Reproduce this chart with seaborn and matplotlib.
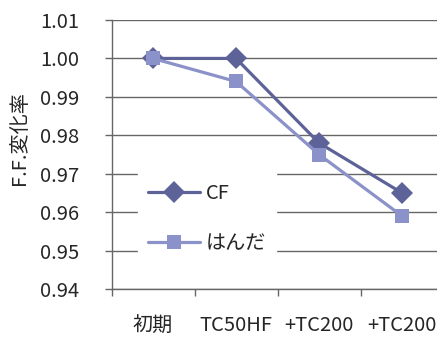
import matplotlib
matplotlib.use("Agg")
import matplotlib.pyplot as plt
import seaborn as sns
import pandas as pd

# Data
stages = ["初期", "TC50HF", "+TC200", "+TC200"]
cf_values = [1.000, 1.000, 0.978, 0.965]
solder_values = [1.000, 0.994, 0.975, 0.959]
series_names = ["CF", "はんだ"]
y_ticks = [0.94, 0.95, 0.96, 0.97, 0.98, 0.99, 1.00, 1.01]

sns.set_theme(style="white")
plt.rcParams["font.family"] = ["Noto Sans CJK JP", "DejaVu Sans"]

colors = {"CF": "#5d6298", "はんだ": "#8b91c9"}
markers = {"CF": "D", "はんだ": "s"}
text_color = "#262626"
axis_color = "#666666"
fs = 14.5

rows = []
for name, vals in zip(series_names, [cf_values, solder_values]):
    for i, (stage, v) in enumerate(zip(stages, vals)):
        rows.append({"pos": i, "stage": stage, "series": name, "value": v})
df = pd.DataFrame(rows)

fig = plt.figure(figsize=(4.37, 3.38), dpi=100)
ax = fig.add_axes([111.5 / 437, 1 - 289 / 338, 332 / 437, 269 / 338])

for name in series_names:
    sub = df[df["series"] == name]
    sns.lineplot(data=sub, x="pos", y="value", ax=ax, color=colors[name],
                 marker=markers[name], markersize=11 if name == "CF" else 10,
                 markeredgecolor=colors[name], markeredgewidth=0,
                 linewidth=2.3, label=name, legend=False)

ax.set_xlim(-0.5, 3.5)
ax.set_ylim(0.94, 1.01)
ax.set_yticks(y_ticks)
ax.set_yticklabels([f"{t:.2f}" for t in y_ticks])
ax.set_xticks([-0.5, 0.5, 1.5, 2.5, 3.5])
ax.set_xticklabels([])
ax.set_xticks(range(len(stages)), minor=True)
ax.set_xticklabels(stages, minor=True)

ax.yaxis.grid(True, color=axis_color, linewidth=1)
ax.xaxis.grid(False)
ax.set_axisbelow(True)

for side in ["top", "right"]:
    ax.spines[side].set_visible(False)
for side in ["left", "bottom"]:
    ax.spines[side].set_color(axis_color)
    ax.spines[side].set_linewidth(1)

ax.tick_params(axis="y", which="major", direction="out", length=5, width=1,
               color=axis_color, pad=18, labelsize=fs, labelcolor=text_color, left=True)
ax.tick_params(axis="x", which="major", direction="out", length=5, width=1,
               color=axis_color, bottom=True)
ax.tick_params(axis="x", which="minor", length=0, pad=19, labelsize=fs,
               labelcolor=text_color)

ax.set_xlabel("")
ax.set_ylabel("F.F.変化率", fontsize=fs, color=text_color)
ax.yaxis.set_label_coords(-0.245, 0.56)

leg = ax.legend(handles=ax.lines, labels=series_names,
                loc="upper left", bbox_to_anchor=(0.08, 0.432),
                frameon=True, fancybox=False, framealpha=1,
                facecolor="white", edgecolor="white",
                fontsize=fs, handlelength=2.6, handletextpad=0.25,
                labelspacing=1.45, borderpad=0.5, borderaxespad=0)
for t in leg.get_texts():
    t.set_color(text_color)

fig.savefig("out.png", dpi=100)
